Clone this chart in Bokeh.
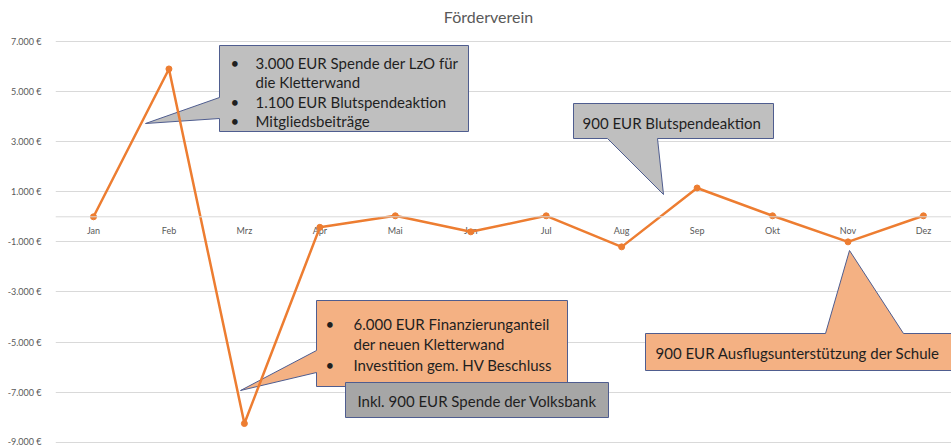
from bokeh.plotting import figure
from bokeh.models import Range1d, Span, FixedTicker, Label, ColumnDataSource
from bokeh.core.properties import value
from bokeh.embed import file_html
from bokeh.resources import INLINE

# ---- data ----
months = ["Jan", "Feb", "Mrz", "Apr", "Mai", "Jun", "Jul", "Aug", "Sep", "Okt", "Nov", "Dez"]
saldo = [0, 5900, -8250, -420, 40, -600, 40, -1200, 1150, 40, -1000, 40]
y_ticks = [7000, 5000, 3000, 1000, -1000, -3000, -5000, -7000, -9000]
y_tick_labels = ["7.000 €", "5.000 €", "3.000 €", "1.000 €", "-1.000 €", "-3.000 €", "-5.000 €", "-7.000 €", "-9.000 €"]
title_text = "Förderverein"

c1_lines = ["3.000 EUR Spende der LzO für", "die Kletterwand", "1.100 EUR Blutspendeaktion", "Mitgliedsbeiträge"]
c1_bullets = [True, False, True, True]
c2_text = "900 EUR Blutspendeaktion"
c3_lines = ["6.000 EUR Finanzierunganteil", "der neuen Kletterwand", "Investition gem. HV Beschluss"]
c3_bullets = [True, False, True]
c4_text = "Inkl. 900 EUR Spende der Volksbank"
c5_text = "900 EUR Ausflugsunterstützung der Schule"

# ---- pixel <-> data mapping (layout) ----
W, H = 951, 446
FRAME_L = 55
X0PX, DXPX = 93.0, 75.45
Y0PX, DYPX = 216.3, 0.02506

def px2x(px):
    return (px - X0PX) / DXPX

def px2y(py):
    return (Y0PX - py) / DYPX

FONT = "Lato"
GRID = "#D9D9D9"
TXT = "#595959"
ORANGE = "#ED7D31"
BORDER = "#4F5D8F"

p = figure(width=W, height=H, output_backend="svg", toolbar_location=None,
           x_axis_location=None, y_axis_location="left",
           x_range=Range1d(px2x(FRAME_L), px2x(W)),
           y_range=Range1d(px2y(H), px2y(0)),
           min_border_left=FRAME_L, min_border_right=0,
           min_border_top=0, min_border_bottom=0)
p.outline_line_color = None
p.background_fill_color = "white"
p.border_fill_color = "white"

for g in p.xgrid:
    g.visible = False

ax = p.yaxis[0]
ax.ticker = FixedTicker(ticks=y_ticks)
ax.major_label_overrides = {t: l for t, l in zip(y_ticks, y_tick_labels)}
ax.axis_line_color = None
ax.major_tick_line_color = None
ax.minor_tick_line_color = None
ax.major_label_standoff = 8
ax.major_label_text_font = FONT
ax.major_label_text_font_size = "9px"
ax.major_label_text_color = TXT
p.ygrid.grid_line_color = GRID
p.ygrid.grid_line_width = 1

p.add_layout(Span(location=0, dimension="width", line_color=GRID, line_width=1))

# ---- title ----
p.add_layout(Label(x=px2x(488), y=px2y(16), text=title_text, text_align="center",
                   text_baseline="middle", text_font=FONT, text_font_size="16px",
                   text_color=TXT))

# ---- month labels at zero line ----
xs = list(range(len(months)))
p.text(x=xs, y=[0] * len(months), text=months, text_align="center",
       text_baseline="middle", y_offset=14, text_font=value(FONT),
       text_font_size="9px", text_color=TXT)

# ---- callouts ----
def poly(pts, fill):
    p.patch([px2x(a) for a, b in pts], [px2y(b) for a, b in pts],
            fill_color=fill, line_color=BORDER, line_width=1)

def txt(px, py, s, size="15px"):
    p.text(x=[px2x(px)], y=[px2y(py)], text=[s], text_align="left",
           text_baseline="middle", text_font=value("Lato"),
           text_font_size=size, text_color="#1F1F1F")

GRAY = "#BFBFBF"
DGRAY = "#A6A6A6"
LORANGE = "#F4B183"

# callout 1
poly([(219, 45), (468, 45), (468, 131), (219, 131), (219, 118), (145, 123), (219, 97)], GRAY)
for i, (s, b) in enumerate(zip(c1_lines, c1_bullets)):
    yy = [62, 81, 101, 120][i]
    if b:
        txt(230, yy, "•")
    txt(255, yy, s)

# callout 2
poly([(573, 103), (773, 103), (773, 138), (657, 138), (663, 194), (607, 138), (573, 138)], GRAY)
txt(582, 122, c2_text)

# callout 3
poly([(316, 300), (567, 300), (567, 386), (316, 386), (316, 372), (240, 390), (316, 350)], LORANGE)
for i, (s, b) in enumerate(zip(c3_lines, c3_bullets)):
    yy = [323, 343, 364][i]
    if b:
        txt(325, yy, "•")
    txt(353, yy, s)

# callout 4
poly([(345, 382), (608, 382), (608, 417), (345, 417)], DGRAY)
txt(357, 400, c4_text)

# callout 5
poly([(645, 333), (825, 333), (849, 250), (903, 333), (960, 333), (960, 370), (645, 370)], LORANGE)
txt(655, 352, c5_text)

# ---- data line ----
src = ColumnDataSource(dict(x=xs, y=saldo))
p.line("x", "y", source=src, line_color=ORANGE, line_width=2.5)
p.scatter("x", "y", source=src, size=6, fill_color=ORANGE, line_color=ORANGE)

open("out.html", "w").write(file_html(p, INLINE))
